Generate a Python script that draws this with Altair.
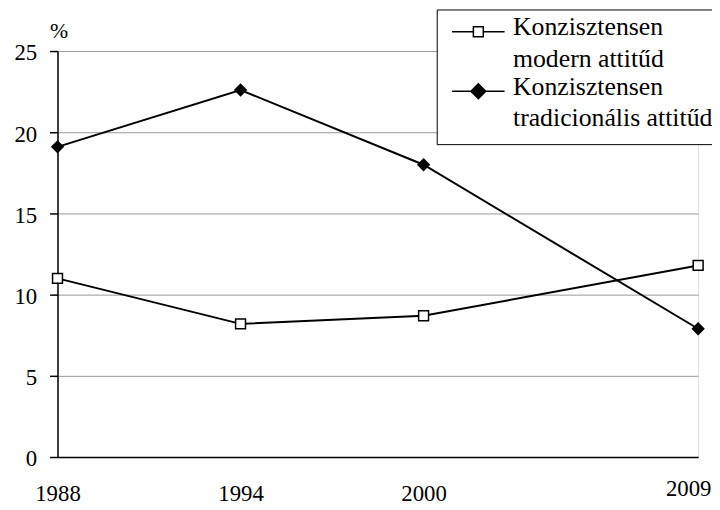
import altair as alt
import pandas as pd

years = [1988, 1994, 2000, 2009]
series_names = ["Konzisztensen modern attitűd", "Konzisztensen tradicionális attitűd"]
modern = [11.0, 8.2, 8.7, 11.8]
traditional = [19.1, 22.6, 18.0, 7.9]
y_ticks = [0, 5, 10, 15, 20, 25]

rows = []
for i, yr in enumerate(years):
    rows.append({"year": yr, "series": series_names[0], "value": modern[i]})
    rows.append({"year": yr, "series": series_names[1], "value": traditional[i]})
df = pd.DataFrame(rows)

FONT = "Liberation Serif, DejaVu Serif, serif"

x_enc = alt.X("year:Q", scale=alt.Scale(domain=[1988, 2009], nice=False, zero=False),
              axis=alt.Axis(values=years, format="d", grid=False, ticks=False, title=None,
                            labelFont=FONT, labelFontSize=23,
                            labelPadding={"condition": {"test": "datum.value == 2009", "value": 21}, "value": 26},
                            labelOffset={"condition": {"test": "datum.value == 2009", "value": -10}, "value": 0},
                            labelColor="black",
                            domainColor="black", domainWidth=1.5, labelFlush=False))
y_enc = alt.Y("value:Q", scale=alt.Scale(domain=[0, 25], nice=False),
              axis=alt.Axis(values=y_ticks, grid=True, gridColor="#999999", gridWidth=1,
                            ticks=True, tickSize=8, tickColor="black", tickWidth=1.5,
                            labelFont=FONT, labelFontSize=23, labelPadding=13, labelColor="black",
                            labelOffset=2,
                            domainColor="black", domainWidth=1.5,
                            title="%", titleAngle=0, titleAlign="left", titleBaseline="alphabetic",
                            titleX=-8, titleY=-14, titleFont=FONT, titleFontSize=22,
                            titleFontWeight="normal", titleColor="black"))

lines = alt.Chart(df).mark_line(color="black", strokeWidth=2).encode(
    x=x_enc, y=y_enc, detail="series:N"
)

points = alt.Chart(df).mark_point(filled=True, stroke="black", strokeWidth=1.5, opacity=1).encode(
    x="year:Q", y="value:Q",
    shape=alt.Shape("series:N", scale=alt.Scale(domain=series_names, range=["square", "diamond"]), legend=None),
    fill=alt.Fill("series:N", scale=alt.Scale(domain=series_names, range=["white", "black"]), legend=None),
    size=alt.Size("series:N", scale=alt.Scale(domain=series_names, range=[100, 130]), legend=None),
)

# legend symbol paths (unit = 10 px for symbol size 400)
cx = 1.6
dy = -0.35
sq = 0.5
dm = 0.75
L = 2.65
path_modern = (f"M{cx - L},{dy}H{cx - sq}M{cx + sq},{dy}H{cx + L}"
               f"M{cx - sq},{dy - sq}H{cx + sq}V{dy + sq}H{cx - sq}Z")
path_trad = (f"M{cx - L},{dy}H{cx + L}"
             f"M{cx - dm},{dy}L{cx},{dy - dm}L{cx + dm},{dy}L{cx},{dy + dm}Z")

leg = alt.Legend(title=None, orient="none", legendX=383, legendY=-42,
                 labelExpr="[substring(datum.label, 0, indexof(datum.label, ' ')), substring(datum.label, indexof(datum.label, ' ') + 1)]",
                 labelFont=FONT, labelFontSize=26, labelBaseline="alphabetic",
                 labelColor="black", labelOffset=38, labelLimit=400,
                 symbolSize=400, symbolStrokeWidth=1.5,
                 symbolOpacity=1,
                 fillColor="white", strokeColor="black", padding=13, rowPadding=2,
                 cornerRadius=0)

legend_layer = alt.Chart(df).transform_filter("false").mark_point(
    filled=False).encode(
    x="year:Q", y="value:Q",
    shape=alt.Shape("series:N", scale=alt.Scale(domain=series_names, range=[path_modern, path_trad]), legend=leg),
    fill=alt.Fill("series:N", scale=alt.Scale(domain=series_names, range=["white", "black"]), legend=leg),
    stroke=alt.Stroke("series:N", scale=alt.Scale(domain=series_names, range=["black", "black"]), legend=leg),
    strokeWidth=alt.value(1.5),
    opacity=alt.value(1),
)

chart = alt.layer(lines, points, legend_layer).resolve_scale(
    shape="independent", fill="independent", size="independent", stroke="independent"
).properties(
    width=647, height=410,
    autosize=alt.AutoSizeParams(type="none"),
    padding={"left": 50, "top": 41, "right": 14, "bottom": 50},
).configure_view(
    stroke="#999999", strokeWidth=1
).configure(
    font=FONT,
    style={"guide-label": {"lineHeight": 32}}
)

chart.save("out.html", embed_options={"renderer": "svg", "actions": False})
